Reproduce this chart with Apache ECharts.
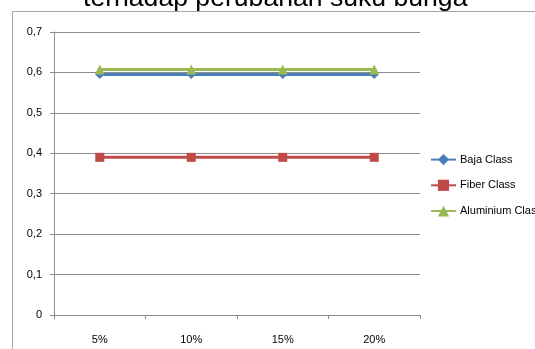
<!DOCTYPE html>
<html>
<head>
<meta charset="utf-8">
<script src="https://cdn.jsdelivr.net/npm/echarts@6/dist/echarts.min.js"></script>
<style>
  html, body { margin: 0; padding: 0; background: #fff; }
  #chart { width: 535px; height: 349px; }
</style>
</head>
<body>
<div id="chart"></div>
<script>
// Interest-rate change categories (x axis)
const categories = ['5%', '10%', '15%', '20%'];

// Values per class
const bajaClass = [0.595, 0.595, 0.595, 0.595];
const fiberClass = [0.39, 0.39, 0.39, 0.39];
const aluminiumClass = [0.607, 0.607, 0.607, 0.607];

const seriesNames = ['Baja Class', 'Fiber Class', 'Aluminium Class'];
const titleText = 'terhadap perubahan suku bunga';

const FONT = '"Liberation Sans", Arial, sans-serif';
const GRID_COLOR = '#8c8c8c';

const chart = echarts.init(document.getElementById('chart'), null, { renderer: 'canvas' });

function lineSeries(name, data, color, symbol, size) {
  return {
    name: name,
    type: 'line',
    data: data,
    symbol: symbol,
    symbolSize: size,
    showSymbol: true,
    lineStyle: { color: color, width: 3 },
    itemStyle: { color: color },
    emphasis: { disabled: true },
    animation: false
  };
}

chart.setOption({
  animation: false,
  title: {
    text: titleText,
    left: 83,
    top: -15,
    padding: 0,
    textStyle: { fontFamily: FONT, fontSize: 26.6, fontWeight: 'normal', color: '#000' }
  },
  graphic: [{
    type: 'rect',
    shape: { x: 12.5, y: 11.5, width: 700, height: 500 },
    style: { fill: 'none', stroke: '#a6a6a6', lineWidth: 1 },
    silent: true,
    z: -1
  }],
  grid: { left: 54, right: 115, top: 32, bottom: 34, containLabel: false },
  legend: {
    orient: 'vertical',
    left: 430,
    top: 154,
    itemWidth: 25,
    itemHeight: 14,
    itemGap: 14.5,
    padding: 0,
    textStyle: { fontFamily: FONT, fontSize: 11, color: '#000', padding: [0, 0, 0, -1] },
    data: seriesNames
  },
  xAxis: {
    type: 'category',
    data: categories,
    boundaryGap: true,
    axisLine: { show: true, lineStyle: { color: GRID_COLOR, width: 1 } },
    axisTick: { show: true, length: 4, inside: false, lineStyle: { color: GRID_COLOR } },
    axisLabel: { margin: 19, fontFamily: FONT, fontSize: 11, color: '#000' },
    splitLine: { show: false }
  },
  yAxis: {
    type: 'value',
    min: 0,
    max: 0.7,
    interval: 0.1,
    axisLine: { show: true, lineStyle: { color: GRID_COLOR, width: 1 } },
    axisTick: { show: true, length: 4, lineStyle: { color: GRID_COLOR } },
    axisLabel: {
      margin: 12,
      fontFamily: FONT,
      fontSize: 11,
      color: '#000',
      formatter: function (v) { return String(Math.round(v * 10) / 10).replace('.', ','); }
    },
    splitLine: { show: true, lineStyle: { color: GRID_COLOR, width: 1 } }
  },
  series: [
    lineSeries(seriesNames[0], bajaClass, '#4a7ebb', 'diamond', 9),
    lineSeries(seriesNames[1], fiberClass, '#be4b48', 'rect', 9),
    lineSeries(seriesNames[2], aluminiumClass, '#98b954', 'triangle', 10)
  ]
});
</script>
</body>
</html>
